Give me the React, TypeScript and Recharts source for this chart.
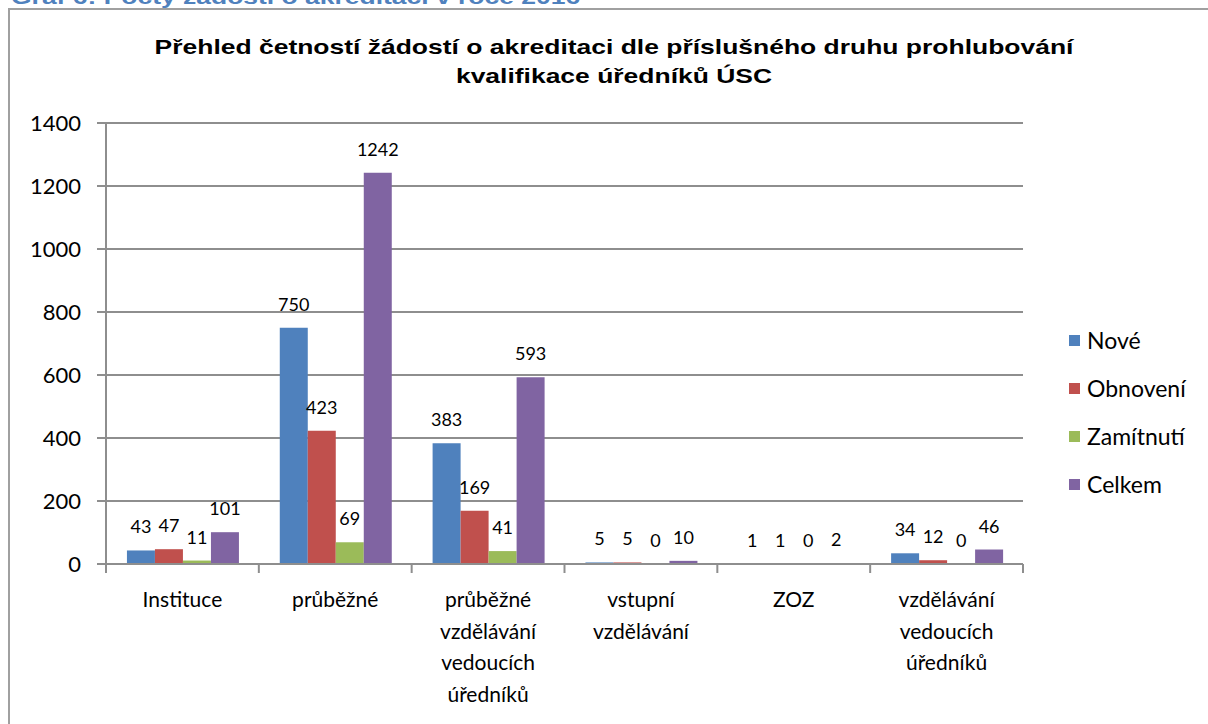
import React from 'react';
import {
  Bar,
  BarChart,
  CartesianGrid,
  LabelList,
  Legend,
  XAxis,
  YAxis
} from 'recharts';

const categories = [
  'Instituce',
  'průběžné',
  'průběžné vzdělávání vedoucích úředníků',
  'vstupní vzdělávání',
  'ZOZ',
  'vzdělávání vedoucích úředníků'
];
const nove = [43, 750, 383, 5, 1, 34];
const obnoveni = [47, 423, 169, 5, 1, 12];
const zamitnuti = [11, 69, 41, 0, 0, 0];
const celkem = [101, 1242, 593, 10, 2, 46];
const yTicks = [0, 200, 400, 600, 800, 1000, 1200, 1400];

// multi-line category labels as Excel wraps them
const categoryLines: Record<string, string[]> = {
  'průběžné vzdělávání vedoucích úředníků': ['průběžné', 'vzdělávání', 'vedoucích', 'úředníků'],
  'vstupní vzdělávání': ['vstupní', 'vzdělávání'],
  'vzdělávání vedoucích úředníků': ['vzdělávání', 'vedoucích', 'úředníků']
};

const series = [
  { key: 'nove', name: 'Nové', color: '#4F81BD' },
  { key: 'obnoveni', name: 'Obnovení', color: '#C0504D' },
  { key: 'zamitnuti', name: 'Zamítnutí', color: '#9BBB59' },
  { key: 'celkem', name: 'Celkem', color: '#8064A2' }
];

const data = categories.map((name, i) => ({
  name,
  nove: nove[i],
  obnoveni: obnoveni[i],
  zamitnuti: zamitnuti[i],
  celkem: celkem[i]
}));

const FONT = 'Lato, "Open Sans", sans-serif';
const TITLE_FONT = 'Arial, "Liberation Sans", "DejaVu Sans", sans-serif';
const AXIS_GRAY = '#8E8E8E';

const CategoryTick = (props: any) => {
  const { x, y, payload, index, width, visibleTicksCount } = props;
  const half = width / visibleTicksCount / 2;
  const lines = categoryLines[payload.value] || [payload.value];
  const last = index === visibleTicksCount - 1;
  return (
    <g>
      <line x1={x - half} x2={x - half} y1={y} y2={y + 9} stroke={AXIS_GRAY} strokeWidth={2} />
      {last && (
        <line x1={x + half} x2={x + half} y1={y} y2={y + 9} stroke={AXIS_GRAY} strokeWidth={2} />
      )}
      <text x={x} y={y} textAnchor="middle" fontFamily={FONT} fontSize={21} fill="#000">
        {lines.map((l: string, i: number) => (
          <tspan key={i} x={x} y={y + 43 + i * 31.5}>
            {l}
          </tspan>
        ))}
      </text>
    </g>
  );
};

// value label above each bar; zero bars get a hair-thin value so the label still shows
const ValueLabel = (props: any) => {
  const { x, y, width, value } = props;
  return (
    <text
      x={Number(x) + Number(width) / 2}
      y={Number(y) - 17}
      textAnchor="middle"
      fontFamily={FONT}
      fontSize={18}
      fill="#000"
    >
      {Math.round(Number(value))}
    </text>
  );
};

const renderLegend = () => (
  <div style={{ fontFamily: FONT, fontSize: 23, color: '#000' }}>
    {series.map((s) => (
      <div key={s.key} style={{ display: 'flex', alignItems: 'center', height: 48 }}>
        <span style={{ width: 11, height: 11, background: s.color, marginRight: 7 }} />
        <span>{s.name}</span>
      </div>
    ))}
  </div>
);

export default function App() {
  return (
    <div
      style={{
        position: 'absolute',
        left: 0,
        top: 0,
        width: 1208,
        height: 724,
        overflow: 'hidden',
        background: '#fff'
      }}
    >
      <div
        style={{
          position: 'absolute',
          left: 11,
          top: -14,
          fontFamily: TITLE_FONT,
          fontWeight: 'bold',
          fontSize: 21,
          lineHeight: '21px',
          color: '#4F81BD',
          whiteSpace: 'nowrap',
          transform: 'scaleX(1.26)',
          transformOrigin: 'left center'
        }}
      >
        Graf 6: Počty žádostí o akreditaci v roce 2016
      </div>
      <div
        style={{
          position: 'absolute',
          left: 8,
          top: 8,
          width: 1200,
          height: 716,
          borderTop: '2px solid #A0A0A0',
          borderLeft: '2px solid #A0A0A0'
        }}
      />
      <div
        style={{
          position: 'absolute',
          left: 0,
          top: 32,
          width: 1228,
          textAlign: 'center',
          fontFamily: TITLE_FONT,
          fontWeight: 'bold',
          fontSize: 21,
          lineHeight: '29px',
          color: '#000',
          whiteSpace: 'nowrap',
          transform: 'scaleX(1.26)',
          transformOrigin: '614px 0'
        }}
      >
        Přehled četností žádostí o akreditaci dle příslušného druhu prohlubování
        <br />
        kvalifikace úředníků ÚSC
      </div>
      <div style={{ position: 'absolute', left: 0, top: 0 }}>
        <BarChart
          width={1208}
          height={724}
          data={data}
          margin={{ top: 123, right: 185, bottom: 10, left: 0 }}
          barCategoryGap="13.7%"
          barGap={0}
        >
          <CartesianGrid vertical={false} stroke={AXIS_GRAY} strokeWidth={2} />
          <XAxis
            dataKey="name"
            height={150}
            interval={0}
            tickLine={false}
            tickSize={0}
            tickMargin={0}
            axisLine={{ stroke: AXIS_GRAY, strokeWidth: 2 }}
            tick={<CategoryTick />}
          />
          <YAxis
            width={106}
            domain={[0, 1400]}
            ticks={yTicks}
            interval={0}
            tickSize={9}
            tickMargin={16}
            axisLine={{ stroke: AXIS_GRAY, strokeWidth: 2 }}
            tickLine={{ stroke: AXIS_GRAY, strokeWidth: 2 }}
            tick={{ fontFamily: FONT, fontSize: 22, fill: '#000' }}
          />
          <Legend
            layout="horizontal"
            verticalAlign="middle"
            align="center"
            content={renderLegend}
            wrapperStyle={{ position: 'absolute', left: 1069, top: 316, width: 139, height: 200 }}
          />
          {series.map((s) => (
            <Bar
              key={s.key}
              dataKey={(d: any) => (d[s.key] === 0 ? 0.0001 : d[s.key])}
              name={s.name}
              fill={s.color}
              isAnimationActive={false}
            >
              <LabelList content={ValueLabel} />
            </Bar>
          ))}
        </BarChart>
      </div>
    </div>
  );
}
